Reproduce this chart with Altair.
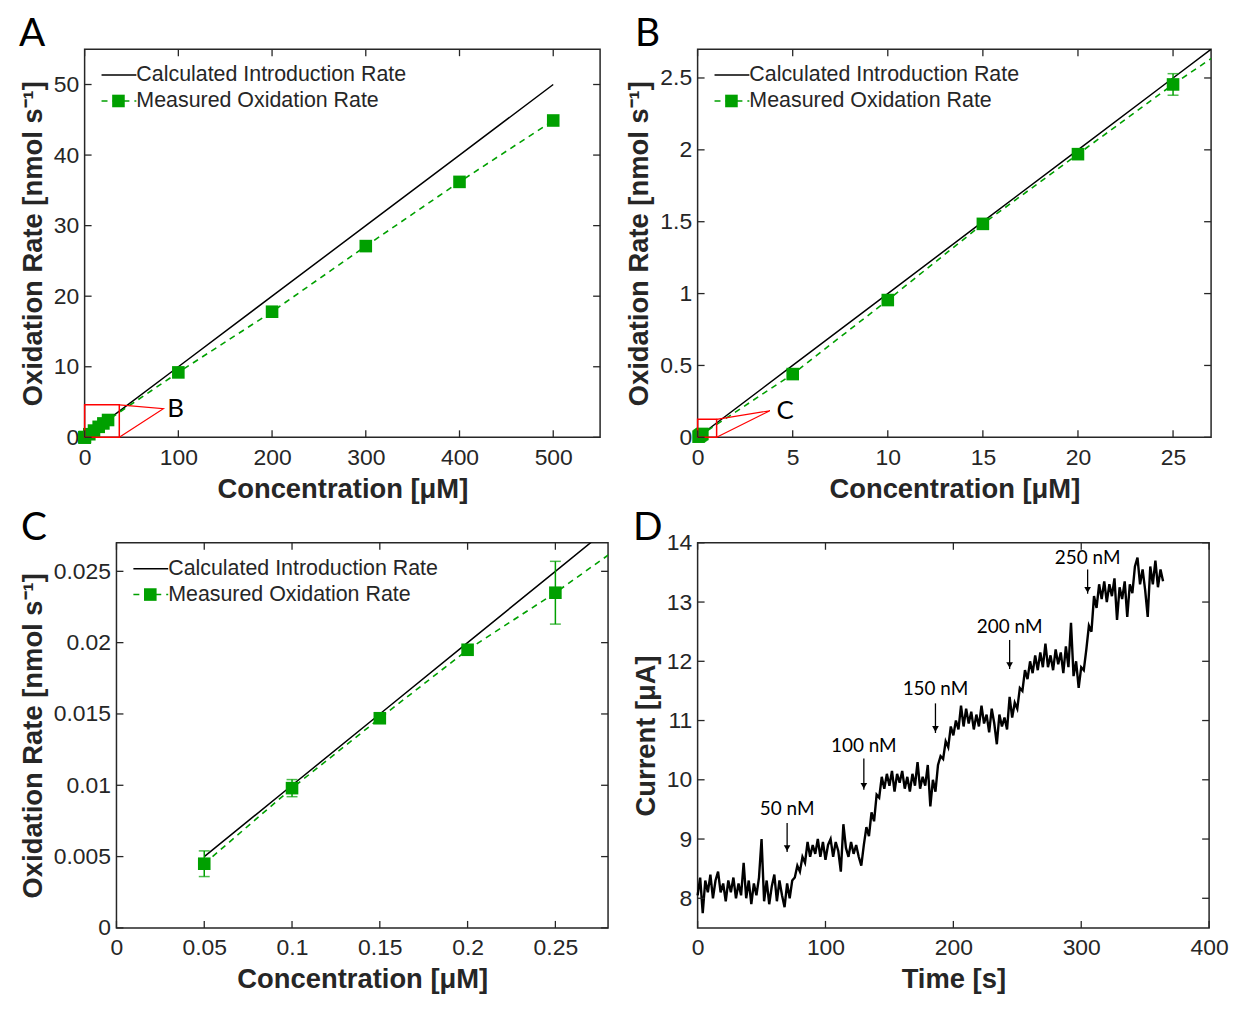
import altair as alt
import pandas as pd

# ---------------- data ----------------
conc = [0.05, 0.1, 0.15, 0.2, 0.25, 5, 10, 15, 20, 25, 100, 200, 300, 400, 500]
measured = [0.0045, 0.0098, 0.0147, 0.0195, 0.0235,
            0.44, 0.955, 1.485, 1.97, 2.455,
            9.2, 17.8, 27.1, 36.2, 44.9]
meas_err = [0.0009, 0.0006, 0.0002, 0.0002, 0.0022,
            0.01, 0.01, 0.01, 0.02, 0.075,
            0.2, 0.3, 0.3, 0.3, 0.3]
calculated = [0.005, 0.01, 0.015, 0.02, 0.025,
              0.5, 1.0, 1.5, 2.0, 2.5,
              10, 20, 30, 40, 50]

time_s = list(range(0, 365, 2))
current = [
    8.05, 8.35, 7.75, 8.30, 8.10, 8.40, 8.00, 8.30, 8.45, 8.10,
    8.25, 7.95, 8.30, 8.10, 8.35, 8.00, 8.25, 8.05, 8.60, 8.00,
    8.30, 7.90, 8.25, 8.05, 8.35, 9.00, 7.95, 8.30, 7.90, 8.20,
    8.40, 7.95, 8.30, 8.05, 7.85, 8.25, 8.00, 8.30,
    8.35, 8.55, 8.45, 8.70, 8.60, 8.95, 8.70, 8.90, 8.75, 9.00,
    8.70, 8.95, 8.65, 8.90, 9.00, 8.70, 8.95, 8.80, 8.45, 9.25,
    8.85, 8.70, 8.95, 8.75, 8.90, 8.70, 8.55, 8.90,
    9.20, 9.05, 9.45, 9.30, 9.75, 9.70, 10.05, 9.85, 10.10, 9.90,
    10.15, 9.80, 10.10, 9.95, 10.15, 9.85, 10.05, 9.80, 10.10, 9.90,
    10.30, 9.85, 10.05, 9.90, 10.25, 9.55, 10.00, 9.80,
    10.25, 10.40, 10.35, 10.65, 10.55, 10.90, 10.75, 11.00, 10.85, 11.25,
    10.90, 11.20, 10.95, 11.15, 10.85, 11.10, 10.90, 11.25, 10.95, 11.10,
    10.80, 11.20, 10.95, 10.60, 11.10, 10.90, 11.05, 10.85,
    11.40, 11.05, 11.30, 11.20, 11.55, 11.50, 11.85, 11.70, 12.00, 11.80,
    12.10, 11.85, 12.15, 11.90, 12.30, 11.90, 12.10, 11.85, 12.20, 11.95,
    12.15, 11.80, 12.25, 11.90, 12.65, 11.75, 12.00, 11.55,
    11.90, 11.85, 12.20, 12.60, 12.50, 13.10, 12.90, 13.30, 13.05, 13.35,
    13.00, 13.30, 13.10, 13.40, 12.70, 13.25, 13.05, 13.35, 12.75, 13.30,
    13.15, 13.60, 13.75, 13.30, 13.55, 13.20, 12.75, 13.60, 13.30, 13.70,
    13.25, 13.55, 13.35,
]
assert len(time_s) == len(current)

arrow_t = [70, 130, 186, 244, 305]
arrow_top = [9.27, 10.36, 11.29, 12.36, 13.55]
arrow_tip = [8.78, 9.83, 10.79, 11.87, 13.14]
arrow_label_y = [9.50, 10.57, 11.54, 12.58, 13.74]
arrow_label = ["50 nM", "100 nM", "150 nM", "200 nM", "250 nM"]

# zoom-box annotations (data coordinates of each panel)
boxA = {"x0": 0, "x1": 37, "y0": 0, "y1": 4.6, "ax": 84, "ay": 4.06, "lx": 97, "ly": 4.06, "lab": "B"}
boxB = {"x0": 0, "x1": 1.0, "y0": 0, "y1": 0.125, "ax": 3.8, "ay": 0.185, "lx": 4.6, "ly": 0.185, "lab": "C"}

# ---------------- styling ----------------
GREEN = "#00a000"
AX = "#262626"
FONT = "Liberation Sans"
LETTER_FONT = "Lato"

df = pd.DataFrame({
    "conc": conc,
    "measured": measured,
    "calc": calculated,
    "lo": [m - e for m, e in zip(measured, meas_err)],
    "hi": [m + e for m, e in zip(measured, meas_err)],
})
one = alt.Data(values=[{"k": 1}])


def axis(values, title, lpad, tpad):
    return alt.Axis(values=values, title=title, format="~r", ticks=False, domain=False,
                    grid=False, labelFontSize=23, labelFont=FONT, labelColor=AX,
                    labelPadding=lpad, labelFlush=False, labelOverlap=False,
                    titleFontSize=27.5, titleFont=FONT, titleFontWeight="bold",
                    titleColor=AX, titlePadding=tpad)


def tick_layers(X, Y, xf, yf, xt, yt, W, H, L=7):
    dx = pd.DataFrame({xf: xt})
    dy = pd.DataFrame({yf: yt})
    r = dict(color=AX, strokeWidth=1.3)
    return [
        alt.Chart(dx).mark_rule(**r).encode(x=X(xf), y=alt.value(H - L), y2=alt.value(H)),
        alt.Chart(dx).mark_rule(**r).encode(x=X(xf), y=alt.value(0), y2=alt.value(L)),
        alt.Chart(dy).mark_rule(**r).encode(y=Y(yf), x=alt.value(0), x2=alt.value(L)),
        alt.Chart(dy).mark_rule(**r).encode(y=Y(yf), x=alt.value(W - L), x2=alt.value(W)),
    ]


def letter_layer(letter, dx, dy):
    return alt.Chart(one).mark_text(text=letter, font=LETTER_FONT, fontSize=39,
                                    color="black", align="left", baseline="middle").encode(
        x=alt.value(dx), y=alt.value(dy))


def legend_layers():
    y1, y2 = 26, 52
    tx = dict(align="left", baseline="middle", fontSize=21.5, font=FONT, color=AX)
    return [
        alt.Chart(one).mark_rule(color="black", strokeWidth=1.5).encode(
            x=alt.value(17), x2=alt.value(52), y=alt.value(y1)),
        alt.Chart(one).mark_text(text="Calculated Introduction Rate", **tx).encode(
            x=alt.value(52), y=alt.value(y1)),
        alt.Chart(one).mark_rule(color=GREEN, strokeWidth=1.5, strokeDash=[6, 5]).encode(
            x=alt.value(17), x2=alt.value(52), y=alt.value(y2)),
        alt.Chart(one).mark_square(color=GREEN, size=160, opacity=1).encode(
            x=alt.value(34), y=alt.value(y2)),
        alt.Chart(one).mark_text(text="Measured Oxidation Rate", **tx).encode(
            x=alt.value(52), y=alt.value(y2)),
    ]


def zoom_layers(box, X, Y):
    rect = pd.DataFrame([box])
    tri = pd.DataFrame({
        "x": [box["x1"], box["ax"], box["x1"]],
        "y": [box["y1"], box["ay"], box["y0"]],
        "o": [0, 1, 2],
    })
    return [
        alt.Chart(rect).mark_rect(fill="transparent", stroke="red", strokeWidth=1.5).encode(
            x=X("x0"), x2="x1", y=Y("y0"), y2="y1"),
        alt.Chart(tri).mark_line(color="red", strokeWidth=1.2).encode(
            x=X("x"), y=Y("y"), order="o:Q"),
        alt.Chart(rect).mark_text(font=LETTER_FONT, fontSize=26, color="black",
                                  align="center", baseline="middle").encode(
            x=X("lx"), y=Y("ly"), text="lab:N"),
    ]


def rate_panel(letter, ldx, ldy, xdom, ydom, xt, yt, W, H, box=None):
    xs = alt.Scale(domain=xdom, nice=False, zero=False)
    ys = alt.Scale(domain=ydom, nice=False, zero=False)
    xa = axis(xt, "Concentration [μM]", 9, 6)
    ya = axis(yt, "Oxidation Rate [nmol s⁻¹]", 6, 6)
    X = lambda f: alt.X(f"{f}:Q", scale=xs, axis=xa)
    Y = lambda f: alt.Y(f"{f}:Q", scale=ys, axis=ya)
    inside = (alt.datum.conc >= xdom[0]) & (alt.datum.conc <= xdom[1])
    base = alt.Chart(df)
    filt = base.transform_filter(inside)
    layers = [
        base.mark_line(color="black", strokeWidth=1.5, clip=True).encode(x=X("conc"), y=Y("calc")),
        base.mark_line(color=GREEN, strokeWidth=1.6, strokeDash=[6, 5], clip=True).encode(
            x=X("conc"), y=Y("measured")),
        filt.mark_rule(color=GREEN, strokeWidth=1.5).encode(x=X("conc"), y=Y("lo"), y2="hi"),
        filt.mark_tick(color=GREEN, thickness=1.5, size=11, orient="horizontal").encode(
            x=X("conc"), y=Y("lo")),
        filt.mark_tick(color=GREEN, thickness=1.5, size=11, orient="horizontal").encode(
            x=X("conc"), y=Y("hi")),
        filt.mark_square(color=GREEN, size=160, opacity=1).encode(x=X("conc"), y=Y("measured")),
    ]
    if box is not None:
        layers += zoom_layers(box, X, Y)
    layers += tick_layers(X, Y, "conc", "calc", xt, yt, W, H)
    layers += legend_layers()
    layers.append(letter_layer(letter, ldx, ldy))
    return alt.layer(*layers).properties(width=W, height=H)


def current_panel(ldx, ldy, W, H):
    xs = alt.Scale(domain=[0, 400], nice=False, zero=False)
    ys = alt.Scale(domain=[7.5, 14], nice=False, zero=False)
    xt = [0, 100, 200, 300, 400]
    yt = [8, 9, 10, 11, 12, 13, 14]
    xa = axis(xt, "Time [s]", 9, 6)
    ya = axis(yt, "Current [μA]", 6, 6)
    X = lambda f: alt.X(f"{f}:Q", scale=xs, axis=xa)
    Y = lambda f: alt.Y(f"{f}:Q", scale=ys, axis=ya)
    dd = pd.DataFrame({"t": time_s, "cur": current})
    da = pd.DataFrame({"t": arrow_t, "top": arrow_top, "tip": arrow_tip,
                       "ly": arrow_label_y, "lab": arrow_label})
    layers = [
        alt.Chart(dd).mark_line(color="black", strokeWidth=2.4).encode(x=X("t"), y=Y("cur")),
        alt.Chart(da).mark_rule(color="black", strokeWidth=1.3).encode(
            x=X("t"), y=Y("top"), y2="tip"),
        alt.Chart(da).mark_point(shape="triangle-down", filled=True, color="black",
                                 opacity=1, size=45, yOffset=-4).encode(x=X("t"), y=Y("tip")),
        alt.Chart(da).mark_text(font=LETTER_FONT, fontSize=19, color="black",
                                align="center", baseline="middle").encode(
            x=X("t"), y=Y("ly"), text="lab:N"),
    ]
    layers += tick_layers(X, Y, "t", "cur", xt, yt, W, H)
    layers.append(letter_layer("D", ldx, ldy))
    return alt.layer(*layers).properties(width=W, height=H)


def spacer():
    return (alt.Chart(one).mark_point(opacity=0)
            .encode(x=alt.value(0), y=alt.value(0))
            .properties(width=1, height=1,
                        view=alt.ViewBackground(stroke="transparent", strokeWidth=0)))


H1, H2 = 390, 387
A = rate_panel("A", -66, -15, [0, 550], [0, 55], [0, 100, 200, 300, 400, 500],
               [0, 10, 20, 30, 40, 50], 518, H1, boxA)
B = rate_panel("B", -63, -15, [0, 27], [0, 2.7], [0, 5, 10, 15, 20, 25],
               [0, 0.5, 1, 1.5, 2, 2.5], 516, H1, boxB)
C = rate_panel("C", -96, -15, [0, 0.28], [0, 0.027], [0, 0.05, 0.1, 0.15, 0.2, 0.25],
               [0, 0.005, 0.01, 0.015, 0.02, 0.025], 494, H2)
D = current_panel(-65, -15, 514, H2)

row1 = alt.hconcat(spacer(), alt.hconcat(A, B, spacing=23), spacing=4)
row2 = alt.hconcat(spacer(), alt.hconcat(C, D, spacing=21), spacing=4)
chart = (
    alt.vconcat(row1, row2, spacing=4)
    .properties(padding={"left": 0, "top": 4, "right": 0, "bottom": 0}, background="white")
    .configure_view(stroke=AX, strokeWidth=1.5)
)

chart.save("out.html", embed_options={"renderer": "svg", "actions": False})
